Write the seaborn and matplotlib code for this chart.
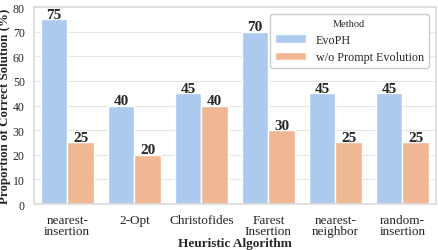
import matplotlib
matplotlib.use("Agg")
import matplotlib.pyplot as plt
import seaborn as sns
import pandas as pd

categories = ["nearest-\ninsertion", "2-Opt", "Christofides", "Farest\nInsertion", "nearest-\nneighbor", "random-\ninsertion"]
evoph = [75, 40, 45, 70, 45, 45]
wo_prompt = [25, 20, 40, 30, 25, 25]
methods = ["EvoPH", "w/o Prompt Evolution"]
colors = ["#abcaed", "#efb793"]

sns.set_theme(style="whitegrid")
plt.rcParams["font.family"] = ["Liberation Serif", "DejaVu Serif"]

df = pd.DataFrame({
    "Heuristic Algorithm": categories * 2,
    "Value": evoph + wo_prompt,
    "Method": [methods[0]] * len(categories) + [methods[1]] * len(categories),
})

fig, ax = plt.subplots(figsize=(4.39, 2.51), dpi=100)
sns.barplot(data=df, x="Heuristic Algorithm", y="Value", hue="Method",
            palette=colors, ax=ax, saturation=1, width=0.8)
for c in ax.containers:
    ax.bar_label(c, fmt="%d", fontsize=11, fontweight="bold", padding=-1)
ax.set_ylim(0, 80)
ax.set_yticks(range(0, 81, 10))
ax.set_ylabel("Proportion of Correct Solution (%)", fontsize=9.3, fontweight="bold", labelpad=1)
ax.set_xlabel("Heuristic Algorithm", fontsize=9.5, fontweight="bold", labelpad=0)
ax.tick_params(axis="x", labelsize=9.5, pad=1)
for t in ax.get_xticklabels():
    t.set_linespacing(0.95)
ax.tick_params(axis="y", labelsize=8.5, pad=0.5)
for s in ax.spines.values():
    s.set_color("#dddddd")
ax.grid(axis="x", visible=False)
ax.grid(axis="y", color="#e5e5e5", linewidth=0.8)
leg = ax.legend(title="Method", fontsize=8.7, title_fontsize=7.5, loc="upper right",
                frameon=True, framealpha=1, handlelength=2.6, borderaxespad=0.6,
                labelspacing=0.45)
plt.subplots_adjust(left=0.077, right=0.993, top=0.968, bottom=0.183)
fig.savefig("out.png", dpi=100)
